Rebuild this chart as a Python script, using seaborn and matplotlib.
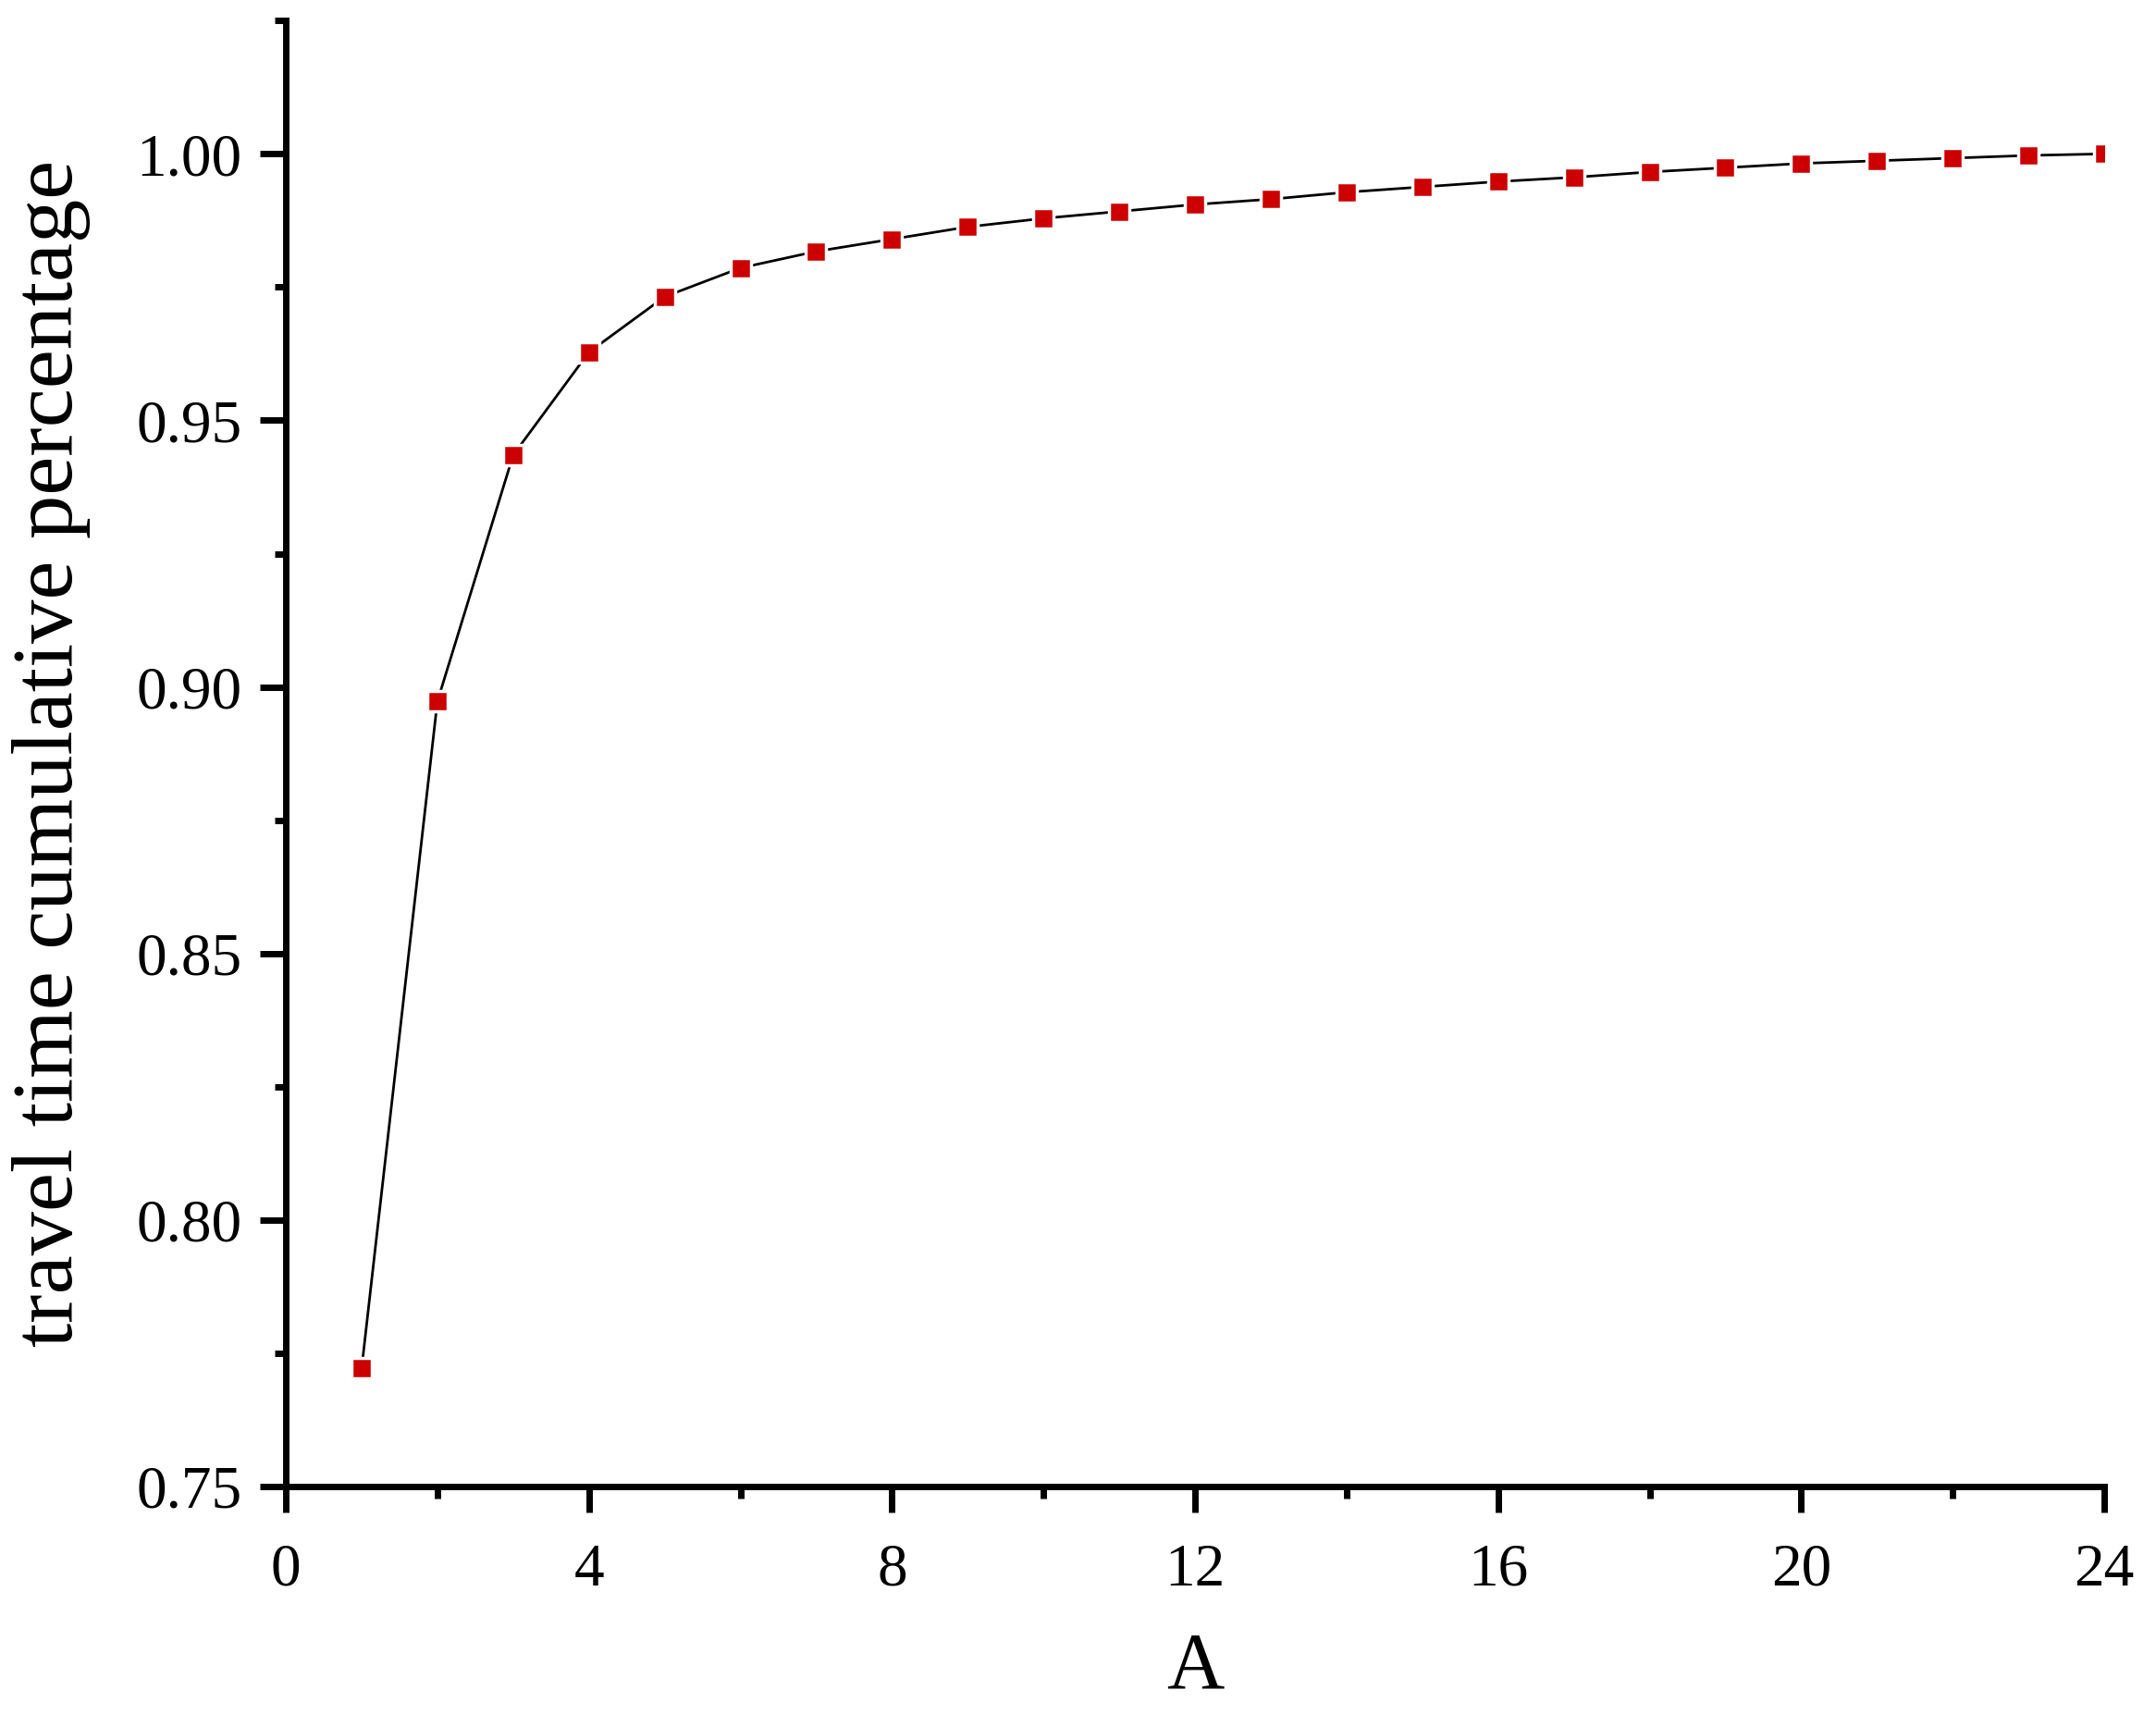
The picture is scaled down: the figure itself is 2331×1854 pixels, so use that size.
import matplotlib.pyplot as plt
import matplotlib.ticker as mticker
import seaborn as sns
import pandas as pd

# values
a_values = list(range(1, 25))
cum_pct = [
    0.7722, 0.8973, 0.9435, 0.9628, 0.9732, 0.9786, 0.9817, 0.9840,
    0.9863, 0.9879, 0.9892, 0.9905, 0.9915, 0.9928, 0.9938, 0.9948,
    0.9956, 0.9966, 0.9974, 0.9982, 0.9987, 0.9992, 0.9997, 1.0000,
]
x_ticks = [0, 4, 8, 12, 16, 20, 24]
y_ticks = [0.75, 0.80, 0.85, 0.90, 0.95, 1.00]

df = pd.DataFrame({"A": a_values, "pct": cum_pct})

sns.set_theme(style="ticks")
plt.rcParams["font.family"] = ["Liberation Serif", "DejaVu Serif"]
plt.rcParams["text.color"] = "black"
plt.rcParams["axes.labelcolor"] = "black"
plt.rcParams["xtick.color"] = "black"
plt.rcParams["ytick.color"] = "black"

fig = plt.figure(figsize=(23.31, 18.54), dpi=100)
ax = fig.add_axes([0.1326, 0.1332, 0.976 - 0.1326, 0.988 - 0.1332])

sns.lineplot(
    data=df, x="A", y="pct", ax=ax, color="black", linewidth=2.0,
    marker="s", markersize=16.2, markerfacecolor="#CC0000",
    markeredgecolor="white", markeredgewidth=2.5,
)

ax.set_xlim(0, 24)
ax.set_ylim(0.75, 1.025)
ax.xaxis.set_major_locator(mticker.FixedLocator(x_ticks))
ax.xaxis.set_minor_locator(mticker.MultipleLocator(2))
ax.yaxis.set_major_locator(mticker.FixedLocator(y_ticks))
ax.yaxis.set_minor_locator(mticker.MultipleLocator(0.025))
ax.yaxis.set_major_formatter(mticker.FormatStrFormatter("%.2f"))

for side in ["top", "right"]:
    ax.spines[side].set_visible(False)
for side in ["left", "bottom"]:
    ax.spines[side].set_linewidth(5)
    ax.spines[side].set_color("black")

ax.tick_params(which="major", length=20, width=5, labelsize=47)
ax.tick_params(axis="x", which="major", pad=24)
ax.tick_params(axis="y", which="major", pad=14)
ax.tick_params(which="minor", length=9, width=5)

ax.set_xlabel("A", fontsize=62, labelpad=26)
ax.set_ylabel("travel time cumulative percentage", fontsize=68, labelpad=36)
ax.grid(False)

fig.savefig("out.png", dpi=100, facecolor="white")
